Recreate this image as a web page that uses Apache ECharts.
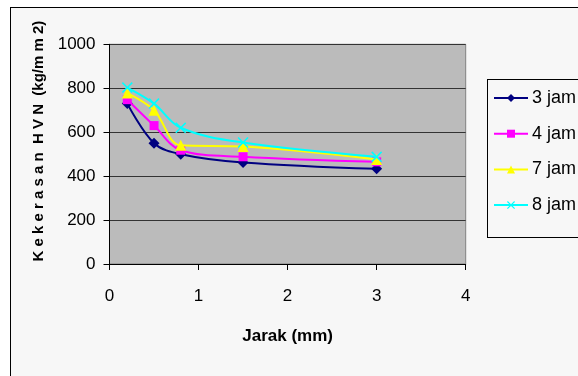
<!DOCTYPE html>
<html>
<head>
<meta charset="utf-8">
<style>
  html, body { margin: 0; padding: 0; background: #ffffff; overflow: hidden; }
  #chart { width: 578px; height: 376px; }
</style>
<script src="https://cdn.jsdelivr.net/npm/echarts@6/dist/echarts.min.js"></script>
</head>
<body>
<div id="chart"></div>
<script>
// Distance from surface (mm) and hardness readings per heating time
const jarak = [0.2, 0.5, 0.8, 1.5, 3];
const jam3 = [730, 550, 500, 462, 433];
const jam4 = [748, 630, 518, 488, 465];
const jam7 = [778, 700, 540, 535, 476];
const jam8 = [803, 730, 620, 553, 488];
const seriesNames = ['3 jam', '4 jam', '7 jam', '8 jam'];
const yTicks = [0, 200, 400, 600, 800, 1000];
const xTicks = [0, 1, 2, 3, 4];

const FONT = '"Liberation Sans", Arial, sans-serif';
const xShape = 'path://M0,1 L1,0 L5,4 L9,0 L10,1 L6,5 L10,9 L9,10 L5,6 L1,10 L0,9 L4,5 Z';

function pairs(vals) { return jarak.map((x, i) => [x, vals[i]]); }

const chart = echarts.init(document.getElementById('chart'), null, { renderer: 'canvas' });

const defs = [
  { vals: jam3, color: '#000080', symbol: 'diamond', size: 11 },
  { vals: jam4, color: '#ff00ff', symbol: 'rect', size: 9 },
  { vals: jam7, color: '#ffff00', symbol: 'triangle', size: 11 },
  { vals: jam8, color: '#00ffff', symbol: xShape, size: 11 }
];

chart.setOption({
  backgroundColor: '#ffffff',
  animation: false,
  graphic: [
    {
      type: 'rect', z: -11, silent: true,
      shape: { x: 11, y: 8, width: 567, height: 368 },
      style: { fill: '#f7f7f7' }
    },
    {
      // chart area frame, open towards the right and bottom edges
      type: 'line', z: -10, silent: true,
      shape: { x1: 10.5, y1: 7, x2: 10.5, y2: 376 },
      style: { stroke: '#000000', lineWidth: 1 }
    },
    {
      type: 'line', z: -10, silent: true,
      shape: { x1: 10, y1: 7.5, x2: 578, y2: 7.5 },
      style: { stroke: '#000000', lineWidth: 1 }
    },
    {
      // legend frame
      type: 'line', z: -5, silent: true,
      shape: { x1: 487.5, y1: 79, x2: 487.5, y2: 238 },
      style: { stroke: '#000000', lineWidth: 1 }
    },
    {
      type: 'line', z: -5, silent: true,
      shape: { x1: 487, y1: 79.5, x2: 578, y2: 79.5 },
      style: { stroke: '#000000', lineWidth: 1 }
    },
    {
      type: 'line', z: -5, silent: true,
      shape: { x1: 487, y1: 237.5, x2: 578, y2: 237.5 },
      style: { stroke: '#000000', lineWidth: 1 }
    }
  ],
  grid: {
    left: 109.5, right: 112.3, top: 44.3, bottom: 112,
    show: true, backgroundColor: '#bbbbbb', borderColor: '#808080', borderWidth: 1
  },
  legend: {
    orient: 'vertical',
    left: 493, top: 89,
    itemWidth: 34, itemHeight: 10, itemGap: 17.7,
    padding: 0,
    borderWidth: 0,
    backgroundColor: 'transparent',
    data: seriesNames,
    textStyle: { fontFamily: FONT, fontSize: 18, color: '#000000', padding: [0, 0, 0, -1] }
  },
  xAxis: {
    type: 'value', min: xTicks[0], max: xTicks[xTicks.length - 1], interval: 1,
    name: 'Jarak (mm)', nameLocation: 'middle', nameGap: 64,
    nameTextStyle: { fontFamily: FONT, fontSize: 17, fontWeight: 'bold', color: '#000000' },
    axisLine: { show: true, onZero: false, lineStyle: { color: '#000000', width: 1 } },
    axisTick: { show: true, inside: false, length: 6, lineStyle: { color: '#000000' } },
    axisLabel: { fontFamily: FONT, fontSize: 17, color: '#000000', margin: 24 },
    splitLine: { show: false }
  },
  yAxis: {
    type: 'value', min: yTicks[0], max: yTicks[yTicks.length - 1], interval: 200,
    name: 'K e k e r a s a n  H V N  (kg/m m 2)', nameLocation: 'middle', nameGap: 62, nameRotate: 90,
    nameTextStyle: { fontFamily: FONT, fontSize: 15, fontWeight: 'bold', color: '#000000', padding: [0, 0, 0, 26] },
    axisLine: { show: true, lineStyle: { color: '#000000', width: 1 } },
    axisTick: { show: true, inside: false, length: 6, lineStyle: { color: '#000000' } },
    axisLabel: { fontFamily: FONT, fontSize: 17, color: '#000000', margin: 14, formatter: v => String(v) },
    splitLine: { show: true, lineStyle: { color: '#333333', width: 1 } }
  },
  series: defs.map((d, i) => ({
    name: seriesNames[i],
    type: 'line',
    data: pairs(d.vals),
    smooth: 0.35,
    symbol: d.symbol,
    symbolSize: d.size,
    showSymbol: true,
    lineStyle: { color: d.color, width: 2 },
    itemStyle: { color: d.color, borderWidth: 0 },
    z: 2 + i
  }))
});
</script>
</body>
</html>
